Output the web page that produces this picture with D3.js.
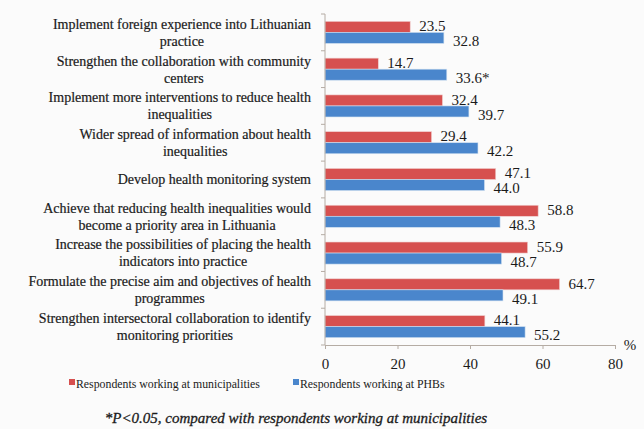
<!DOCTYPE html>
<html><head><meta charset="utf-8">
<script src="https://cdn.jsdelivr.net/npm/d3@7"></script>
<style>body{margin:0;background:#fbfbfb;}svg{display:block;}</style>
</head><body>
<svg id="c" width="644" height="429" style="font-family:'Liberation Serif'"></svg>
<script>
const categories = [
  ["Implement foreign experience into Lithuanian","practice"],
  ["Strengthen the collaboration with community","centers"],
  ["Implement more interventions to reduce health","inequalities"],
  ["Wider spread of information about health","inequalities"],
  ["Develop health monitoring system"],
  ["Achieve that reducing health inequalities would","become a priority area in Lithuania"],
  ["Increase the possibilities of placing the health","indicators into practice"],
  ["Formulate the precise aim and objectives of health","programmes"],
  ["Strengthen intersectoral collaboration to identify","monitoring priorities"]
];
const municipalities = [23.5, 14.7, 32.4, 29.4, 47.1, 58.8, 55.9, 64.7, 44.1];
const phbs = [32.8, 33.6, 39.7, 42.2, 44.0, 48.3, 48.7, 49.1, 55.2];
const phbLabels = ["32.8","33.6*","39.7","42.2","44.0","48.3","48.7","49.1","55.2"];
const xTicks = [0, 20, 40, 60, 80];
const seriesNames = ["Respondents working at municipalities","Respondents working at PHBs"];
const colors = ["#d6504f","#4a86cc"];

const FONT = "'Liberation Serif'";
const svg = d3.select("#c");
const x = d3.scaleLinear().domain([0,80]).range([325,615]);
const y = d3.scaleBand().domain(d3.range(categories.length)).range([14,345]).paddingInner(0.4).paddingOuter(0.2);
const inner = d3.scaleBand().domain([0,1]).range([0,y.bandwidth()]);
const txtCol = "#1a1a1a";

// bars
const g = svg.append("g");
const rows = g.selectAll("g.row").data(categories).join("g").attr("transform",(d,i)=>`translate(0,${y(i)})`);
rows.append("rect").attr("x",x(0)).attr("y",inner(0)).attr("height",inner.bandwidth())
  .attr("width",(d,i)=>x(municipalities[i])-x(0)).attr("fill",colors[0]).attr("stroke","#f0d0d0").attr("stroke-width",0.6);
rows.append("rect").attr("x",x(0)).attr("y",inner(1)).attr("height",inner.bandwidth())
  .attr("width",(d,i)=>x(phbs[i])-x(0)).attr("fill",colors[1]).attr("stroke","#d0e0f0").attr("stroke-width",0.6);
rows.append("text").attr("x",(d,i)=>x(municipalities[i])+9).attr("y",inner(0)+inner.bandwidth()/2-1)
  .attr("dy","0.35em").text((d,i)=>municipalities[i].toFixed(1))
  .style("font-family",FONT).attr("font-size",15).attr("fill",txtCol);
rows.append("text").attr("x",(d,i)=>x(phbs[i])+9).attr("y",inner(1)+inner.bandwidth()/2+3)
  .attr("dy","0.35em").text((d,i)=>phbLabels[i])
  .style("font-family",FONT).attr("font-size",15).attr("fill",txtCol);

// category labels: block right-aligned, lines centred within block
const lab = svg.append("g");
categories.forEach((lines,i)=>{
  const cy = y(i)+y.bandwidth()/2;
  const lh = 17;
  const t = lab.append("text").attr("text-anchor","middle").attr("font-size",14).style("font-family",FONT)
    .attr("fill",txtCol).attr("stroke",txtCol).attr("stroke-width",0.2);
  const n = lines.length;
  const spans = lines.map((l,j)=>t.append("tspan").attr("y",cy+(j-(n-1)/2)*lh).attr("dy","0.35em").text(l));
  const maxW = d3.max(spans, s=>s.node().getComputedTextLength());
  spans.forEach(s=>s.attr("x",311-maxW/2));
});

// y axis line with ticks at boundaries
const axisCol = "#b5aca4";
svg.append("line").attr("x1",x(0)).attr("x2",x(0)).attr("y1",14).attr("y2",345).attr("stroke",axisCol);
d3.range(categories.length+1).forEach(i=>{
  const yy = 14 + i*(331/categories.length);
  svg.append("line").attr("x1",x(0)-4).attr("x2",x(0)).attr("y1",yy).attr("y2",yy).attr("stroke",axisCol);
});
// x axis
const xa = svg.append("g").attr("transform","translate(0,345)")
  .call(d3.axisBottom(x).tickValues(xTicks).tickSize(4).tickSizeOuter(0));
xa.attr("font-family",null);
xa.select(".domain").attr("stroke",axisCol);
xa.selectAll(".tick line").attr("stroke",axisCol);
xa.selectAll(".tick text").style("font-family",FONT).attr("font-size",15).attr("fill",txtCol).attr("dy","1.1em");
svg.append("text").attr("x",630).attr("y",345).attr("dy","0.35em").attr("text-anchor","middle")
  .style("font-family",FONT).attr("font-size",15).attr("fill",txtCol).text("%");

// legend
const leg = svg.append("g");
const legX = [69, 293];
seriesNames.forEach((s,i)=>{
  leg.append("rect").attr("x",legX[i]).attr("y",379).attr("width",6).attr("height",6).attr("fill",colors[i]);
  leg.append("text").attr("x",legX[i]+7).attr("y",384).attr("dy","0.35em").style("font-family",FONT)
    .attr("font-size",11.8).attr("fill",txtCol).text(s);
});
svg.append("text").attr("x",296).attr("y",418).attr("dy","0.35em").attr("text-anchor","middle").style("font-family",FONT)
  .attr("font-size",15).attr("font-style","italic").attr("fill",txtCol).attr("stroke",txtCol).attr("stroke-width",0.3)
  .text("*P<0.05, compared with respondents working at municipalities");
</script>
</body></html>
